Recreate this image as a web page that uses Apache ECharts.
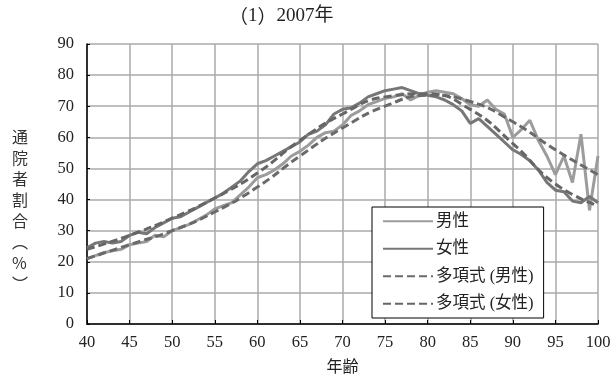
<!DOCTYPE html>
<html><head><meta charset="utf-8">
<script src="https://cdn.jsdelivr.net/npm/echarts@6/dist/echarts.min.js"></script>
<style>html,body{margin:0;padding:0;background:#fff}#c{width:614px;height:386px}</style>
</head><body><div id="c"></div>
<script>
const ages = [40,41,42,43,44,45,46,47,48,49,50,51,52,53,54,55,56,57,58,59,60,61,62,63,64,65,66,67,68,69,70,71,72,73,74,75,76,77,78,79,80,81,82,83,84,85,86,87,88,89,90,91,92,93,94,95,96,97,98,99,100];
const men = [21,22,23,23.5,24,25.5,26,26.5,28.5,28,30,31,32,33.5,35,37,38,39,41.5,44,47,48,49.5,51.5,54,55.5,57.5,60,61.5,62,64,67,68.5,70.5,71.5,72.5,73,74,72,73.5,74.5,75,74.5,74,72.5,70.5,70,72,69,67.5,60,62.5,65.5,59,54,48,54,45.5,61,36.5,54];
const women = [24.5,26,26.5,26,26.5,28.5,29.5,29,31,32.5,34,34.5,36,37.5,39,40.5,42,44,46,49,51.5,52.5,54,55.5,57,58.5,61,62,64,67.5,69,69.5,71,73,74,75,75.5,76,75,74,73.5,73,72,70.5,68.5,64.5,66,63.5,61,58.5,56,54.5,52.5,49.5,45.5,43,42.5,39.5,39,41,39];
const trendAges = [40,45,50,55,60,65,70,75,80,85,90,95,100];
const trendMen = [21,25.5,30,36,44,54,63,70,73.5,71.5,65,56,48];
const trendWomen = [24,28.5,34,40.5,48.5,59,67.5,73,74,69,58,45,38];
const yTicks = [0,10,20,30,40,50,60,70,80,90];
const names = ['男性','女性','多項式 (男性)','多項式 (女性)'];

const pair = (xs, ys) => xs.map((x, i) => [x, ys[i]]);
const FONT = '"Liberation Serif","DejaVu Serif","Noto Sans CJK JP",serif';
const CJK = '"Noto Sans CJK JP",sans-serif';
const chart = echarts.init(document.getElementById('c'));
chart.setOption({
  animation: false,
  backgroundColor: '#fff',
  title: {text: '{p|（}1{p|）}2007年', left: 224, top: 2,
    textStyle: {fontFamily: FONT, fontSize: 19, fontWeight: 'normal', color: '#222',
      rich: {p: {fontFamily: CJK, fontSize: 19, color: '#222'}}}},
  grid: {left: 87, right: 16, top: 44, bottom: 62},
  legend: {
    orient: 'vertical', left: 372, top: 207, width: 179,
    padding: [6, 10, 6, 10], itemGap: 11, itemWidth: 50, itemHeight: 14,
    borderColor: '#000', borderWidth: 1, backgroundColor: '#fff',
    itemStyle: {opacity: 0},
    textStyle: {fontFamily: FONT, fontSize: 16.5, color: '#222', padding: [0, 0, 0, -2]},
    data: names
  },
  xAxis: {
    type: 'value', min: 40, max: 100, interval: 5,
    name: '年齢', nameLocation: 'middle', nameGap: 36,
    nameTextStyle: {fontFamily: FONT, fontSize: 16, color: '#222'},
    axisLine: {lineStyle: {color: '#000', width: 1.5}},
    axisTick: {inside: true, length: 4, lineStyle: {color: '#000'}},
    axisLabel: {fontFamily: FONT, fontSize: 16.5, color: '#222', margin: 10},
    splitLine: {show: true, lineStyle: {color: '#aaa', width: 1.5}}
  },
  yAxis: {
    type: 'value', min: 0, max: 90, interval: 10,
    axisLine: {show: true, lineStyle: {color: '#000', width: 1.5}},
    axisTick: {show: true, inside: true, length: 3, lineStyle: {color: '#000'}},
    axisLabel: {fontFamily: FONT, fontSize: 16.5, color: '#222', margin: 13,
      formatter: v => yTicks.includes(v) ? String(v) : ''},
    splitLine: {show: true, lineStyle: {color: '#aaa', width: 1.5}}
  },
  graphic: [{
    type: 'text', left: 12, top: 126,
    style: {text: '通\n院\n者\n割\n合\n︵\n%\n︶', fontFamily: CJK,
      fontSize: 16, lineHeight: 21, fill: '#333', align: 'center'}
  }],
  series: [
    {name: names[0], type: 'line', symbol: 'none', data: pair(ages, men),
      lineStyle: {color: '#9c9c9c', width: 3}, itemStyle: {color: '#9c9c9c'}, z: 2},
    {name: names[1], type: 'line', symbol: 'none', data: pair(ages, women),
      lineStyle: {color: '#777', width: 3}, itemStyle: {color: '#777'}, z: 3},
    {name: names[2], type: 'line', symbol: 'none', smooth: true, data: pair(trendAges, trendMen),
      lineStyle: {color: '#6a6a6a', width: 3, type: [8, 4]}, itemStyle: {color: '#6a6a6a'}, z: 4},
    {name: names[3], type: 'line', symbol: 'none', smooth: true, data: pair(trendAges, trendWomen),
      lineStyle: {color: '#666', width: 3, type: [8, 4]}, itemStyle: {color: '#666'}, z: 5}
  ]
});
</script></body></html>
